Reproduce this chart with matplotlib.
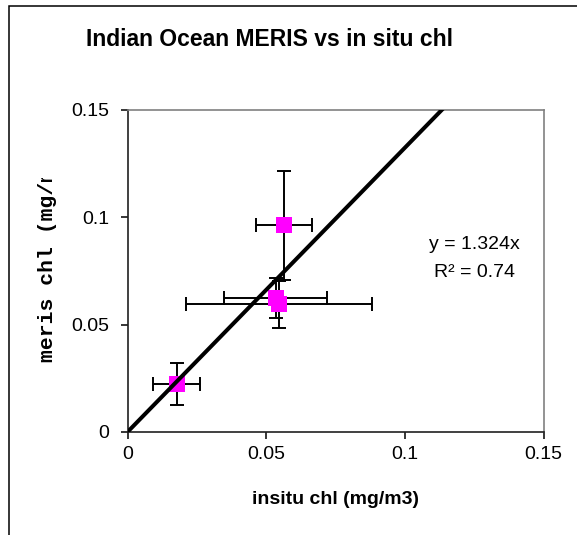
"""Indian Ocean MERIS vs in situ chl — scatter with error bars and trendline."""
import matplotlib
matplotlib.use("Agg")
import matplotlib.pyplot as plt
from matplotlib.patches import Rectangle
from matplotlib.transforms import Bbox

# ─── Data ──────────────────────────────────────────────────────────────────
insitu_chl = [0.0177, 0.0535, 0.0547, 0.0564]
meris_chl = [0.0224, 0.0626, 0.0595, 0.0963]
insitu_err = [0.0084, 0.0186, 0.0336, 0.0102]
meris_err = [0.0096, 0.0093, 0.0110, 0.0255]
trend_slope = 1.324
r_squared = 0.74
tick_values = [0, 0.05, 0.1, 0.15]
tick_labels = ["0", "0.05", "0.1", "0.15"]

W, H = 577, 535
SANS = "Liberation Sans"
MONO = "Liberation Mono"

fig = plt.figure(figsize=(W / 100, H / 100), dpi=100)

# outer chart border (only left + top visible in reference)
fig.patches.append(Rectangle((8.5 / W, -0.1), 1.2, 1 - 6 / H + 0.1,
                             transform=fig.transFigure, fill=False,
                             edgecolor="black", linewidth=1.1))

ax = fig.add_axes([127.5 / W, 1 - 432 / H, 416 / W, 322 / H])

ax.errorbar(insitu_chl, meris_chl, xerr=insitu_err, yerr=meris_err,
            fmt="none", ecolor="black", elinewidth=1.4,
            capsize=5.3, capthick=1.4, zorder=2)
ax.plot(insitu_chl, meris_chl, linestyle="none", marker="s",
        markersize=11.5, color="#FF00FF", markeredgewidth=0, zorder=3)
ax.plot([0, 0.15], [0, trend_slope * 0.15], color="black",
        linewidth=2.9, zorder=4, solid_capstyle="butt")

ax.set_xlim(0, 0.15)
ax.set_ylim(0, 0.15)
ax.set_xticks(tick_values)
ax.set_xticklabels(tick_labels)
ax.set_yticks(tick_values)
ax.set_yticklabels(tick_labels)
ax.tick_params(direction="out", length=5, width=1.1, colors="black")
ax.tick_params(axis="x", pad=5)
ax.tick_params(axis="y", pad=8)
for lbl in ax.get_xticklabels() + ax.get_yticklabels():
    lbl.set_family(SANS)
    lbl.set_fontsize(14)

for side in ("left", "bottom"):
    ax.spines[side].set_color("#202020")
    ax.spines[side].set_linewidth(1.2)
for side in ("top", "right"):
    ax.spines[side].set_color("#808080")
    ax.spines[side].set_linewidth(1.2)

# trendline equation
ax.text(0.835, 0.581, f"y = {trend_slope}x", transform=ax.transAxes,
        ha="center", va="center", fontsize=14, family=SANS)
ax.text(0.835, 0.494, f"R\u00b2 = {r_squared}", transform=ax.transAxes,
        ha="center", va="center", fontsize=14, family=SANS)

# title and axis labels
fig.text(270 / W, 1 - 40 / H, "Indian Ocean MERIS vs in situ chl",
         ha="center", va="center", fontsize=16.5, fontweight="bold",
         family=SANS)
fig.text(335.5 / W, 1 - 499 / H, "insitu chl (mg/m3)", ha="center",
         va="center", fontsize=14, fontweight="bold", family=SANS)
ylab = fig.text(48 / W, 1 - 362 / H, "meris chl (mg/m3)", rotation=90,
                ha="center", va="bottom", fontsize=15.4, fontweight="bold",
                family=MONO)
# label is cut off at the top in the reference
ylab.set_clip_box(Bbox([[0, 0], [W, H - 178]]))
ylab.set_clip_on(True)

fig.savefig("out.png", dpi=100)
